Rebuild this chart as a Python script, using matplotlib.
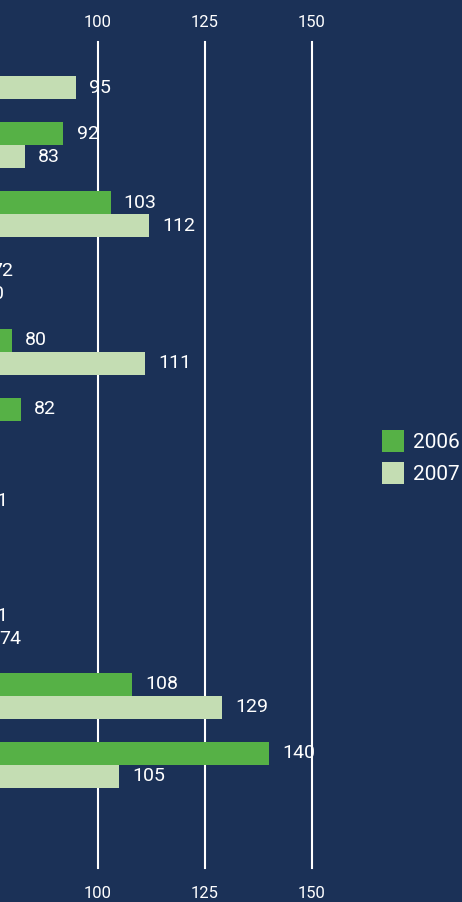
import numpy as np
import matplotlib.pyplot as plt

plt.rcParams['font.family'] = ['Roboto', 'DejaVu Sans']

# 12 groups, the category names sit off the left edge of the picture
categories = ['G1', 'G2', 'G3', 'G4', 'G5', 'G6', 'G7', 'G8', 'G9', 'G10', 'G11', 'G12']
v2006 = [62, 92, 103, 72, 80, 82, 64, 60, 71, 108, 140, 58]
v2007 = [95, 83, 112, 70, 111, 60, 71, 62, 74, 129, 105, 55]
years = ['2006', '2007']
xticks = [0, 25, 50, 75, 100, 125, 150]

navy = '#1b3157'
c2006 = '#56b146'
c2007 = '#c4ddb3'

fig = plt.figure(figsize=(4.62, 9.02), dpi=100, facecolor=navy)
# axes starts far left of the figure (chart is cropped)
ax = fig.add_axes([-331 / 462, 34 / 902, 643 / 462, 826 / 902])
ax.set_facecolor(navy)

y = np.arange(len(categories))
h = 1 / 3
ax.barh(y - h / 2, v2006, height=h, color=c2006, zorder=3, label=years[0])
ax.barh(y + h / 2, v2007, height=h, color=c2007, zorder=3, label=years[1])

for vals, off in [(v2006, -h / 2), (v2007, h / 2)]:
    for yy, v in zip(y, vals):
        ax.annotate(str(v), (v, yy + off), xytext=(9.5, 0), textcoords='offset points',
                    va='center', ha='left', color='white', fontsize=14, zorder=1)

for t in xticks:
    ax.axvline(t, color='white', lw=1.5, zorder=2, clip_on=False)

ax.set_xlim(0, 150)
ax.set_ylim(len(categories) - 0.5, -0.5)
ax.set_yticks([])
ax.set_xticks(xticks)
ax.tick_params(axis='x', length=0, colors='white', labelsize=12, pad=13)
for s in ax.spines.values():
    s.set_visible(False)

top = ax.secondary_xaxis('top')
top.set_xticks(xticks)
top.tick_params(axis='x', length=0, colors='white', labelsize=12, pad=8.3)
for s in top.spines.values():
    s.set_visible(False)

ax.legend(loc='upper left', bbox_to_anchor=(382 / 462, 1 - 430 / 902),
          bbox_transform=fig.transFigure, frameon=False, fontsize=15,
          handlelength=1.06, handleheight=1.25, handletextpad=0.43,
          labelspacing=0.5, borderpad=0, borderaxespad=0, labelcolor='white')

fig.savefig('out.png', dpi=100, facecolor=navy)
